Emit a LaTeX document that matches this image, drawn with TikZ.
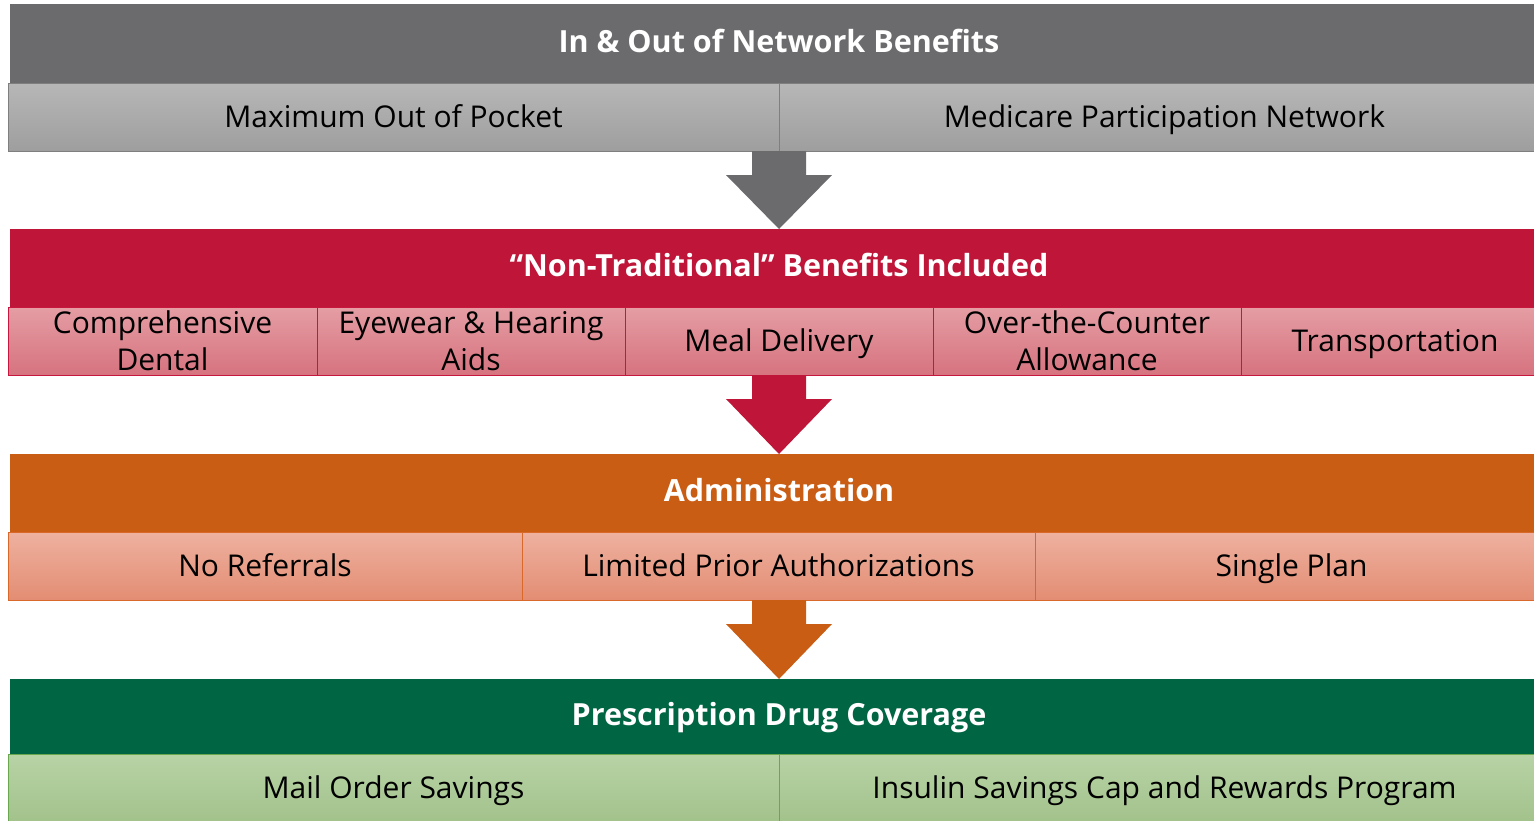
\documentclass[tikz,border=0pt]{standalone}
\usepackage{fontspec}
\setmainfont{Open Sans}
\usetikzlibrary{calc}

\definecolor{grayHdr}{HTML}{6B6B6D}
\definecolor{graySubTop}{HTML}{B6B7B6}
\definecolor{graySubBot}{HTML}{9E9E9E}
\definecolor{grayLine}{HTML}{7F7F7F}
\definecolor{redHdr}{HTML}{BE1538}
\definecolor{redSubTop}{HTML}{E59DA4}
\definecolor{redSubBot}{HTML}{D6737F}
\definecolor{redLine}{HTML}{C8173F}
\definecolor{orHdr}{HTML}{CA5D14}
\definecolor{orSubTop}{HTML}{EEB1A0}
\definecolor{orSubBot}{HTML}{E38D73}
\definecolor{orLine}{HTML}{D8692A}
\definecolor{grHdr}{HTML}{006543}
\definecolor{grSubTop}{HTML}{B8D3A6}
\definecolor{grSubBot}{HTML}{A2C28B}
\definecolor{grLine}{HTML}{6AA84F}

% block arrow hanging from the middle of a row down to the next header
\newcommand\flowarrow[3]{% colour, start coordinate, tip coordinate
  \fill[#1] ($(#2)+(-27,0)$) -- ($(#2)+(27,0)$) -- ($(#2)+(27,24)$)
    -- ($(#2)+(53,24)$) -- (#3) -- ($(#2)+(-53,24)$) -- ($(#2)+(-27,24)$) -- cycle;}

\begin{document}
\begin{tikzpicture}[x=1pt,y=-1pt,
  hdr/.style={rectangle, anchor=north west, minimum width=1538pt, inner sep=0pt,
    outer sep=0pt, text=white, text height=21.8pt, text depth=4pt,
    font=\fontsize{30.5}{36}\selectfont\bfseries},
  cell/.style={rectangle, anchor=north west, minimum height=68pt, inner sep=0pt,
    outer sep=0pt, line width=1pt, text=black, align=center,
    font=\fontsize{30}{37}\selectfont},
  one/.style={text height=21.4pt, text depth=1pt},
  graycell/.style={cell, draw=grayLine, top color=graySubTop, bottom color=graySubBot},
  redcell/.style={cell, draw=redLine, top color=redSubTop, bottom color=redSubBot},
  orcell/.style={cell, draw=orLine, top color=orSubTop, bottom color=orSubBot},
  grcell/.style={cell, draw=grLine, top color=grSubTop, bottom color=grSubBot}]
\useasboundingbox (0,0) rectangle (1534,820);
\begin{scope}
\clip (0,0) rectangle (1534,820);

% network tier
\node[hdr, fill=grayHdr, minimum height=79pt] (hA) at (10,4) {In \& Out of Network Benefits};
\node[graycell, one, minimum width=771pt] (sA1) at (8,83) {Maximum Out of Pocket};
\node[graycell, one, minimum width=771pt] (sA2) at (779,83) {Medicare Participation Network};

% benefits tier
\node[hdr, fill=redHdr, minimum height=78pt] (hB) at (10,229) {“Non-Traditional” Benefits Included};
\node[redcell, minimum width=309pt] (sB1) at (8,307) {Comprehensive\\Dental};
\node[redcell, minimum width=308pt] (sB2) at (317,307) {Eyewear \& Hearing\\Aids};
\node[redcell, one, minimum width=308pt] (sB3) at (625,307) {Meal Delivery};
\node[redcell, minimum width=308pt] (sB4) at (933,307) {Over-the-Counter\\Allowance};
\node[redcell, one, minimum width=308pt] (sB5) at (1241,307) {Transportation};

% administration tier
\node[hdr, fill=orHdr, minimum height=78pt] (hC) at (10,454) {Administration};
\node[orcell, one, minimum width=514pt] (sC1) at (8,532) {No Referrals};
\node[orcell, one, minimum width=513pt] (sC2) at (522,532) {Limited Prior Authorizations};
\node[orcell, one, minimum width=513pt] (sC3) at (1035,532) {Single Plan};

% drug tier
\node[hdr, fill=grHdr, minimum height=75pt] (hD) at (10,679) {Prescription Drug Coverage};
\node[grcell, one, minimum width=771pt] (sD1) at (8,754) {Mail Order Savings};
\node[grcell, one, minimum width=771pt] (sD2) at (779,754) {Insulin Savings Cap and Rewards Program};

% connectors between tiers
\coordinate (aA) at (hA.south |- sA1.south);
\coordinate (tA) at (hA.south |- hB.north);
\coordinate (aB) at (hA.south |- sB1.south);
\coordinate (tB) at (hA.south |- hC.north);
\coordinate (aC) at (hA.south |- sC1.south);
\coordinate (tC) at (hA.south |- hD.north);
\flowarrow{grayHdr}{aA}{tA}
\flowarrow{redHdr}{aB}{tB}
\flowarrow{orHdr}{aC}{tC}
\end{scope}
\end{tikzpicture}
\end{document}
